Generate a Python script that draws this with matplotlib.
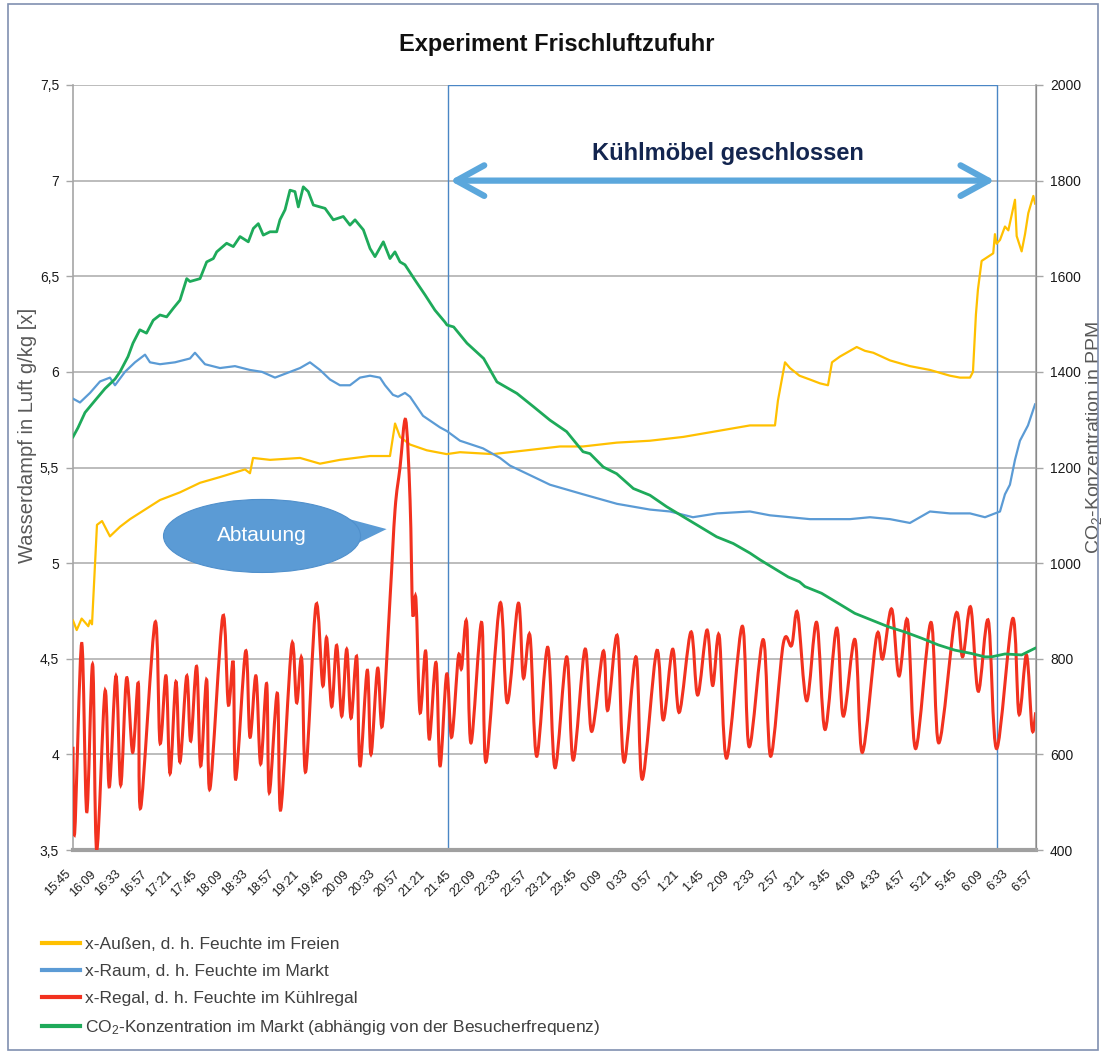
import numpy as np
import matplotlib
matplotlib.use("Agg")
import matplotlib.pyplot as plt
from matplotlib.path import Path
from matplotlib.patches import PathPatch, Ellipse, Polygon, Rectangle
from matplotlib.lines import Line2D
from matplotlib import transforms

plt.rcParams['font.family'] = ['Liberation Sans', 'DejaVu Sans']
plt.rcParams['mathtext.default'] = 'regular'

# time axis: minutes after 15:45, one label every 24 min
time_labels = ['15:45', '16:09', '16:33', '16:57', '17:21', '17:45', '18:09', '18:33',
               '18:57', '19:21', '19:45', '20:09', '20:33', '20:57', '21:21', '21:45',
               '22:09', '22:33', '22:57', '23:21', '23:45', '0:09', '0:33', '0:57',
               '1:21', '1:45', '2:09', '2:33', '2:57', '3:21', '3:45', '4:09', '4:33',
               '4:57', '5:21', '5:45', '6:09', '6:33', '6:57']

# x-Aussen (g/kg)
aussen_t = [0, 3.5, 8.2, 11.4, 14.5, 16.1, 18, 22.7, 27.5, 35, 44.5, 54, 68.2, 82.4,
            101.3, 120.3, 139.2, 162.9, 167.6, 170.5, 186.6, 215, 233.9, 252.8, 267.1,
            281.3, 300.2, 305, 309.7, 319.2, 335, 353.9, 366.5, 397.7, 429.7, 461.2,
            483, 514.9, 546.4, 578, 609.6, 641.1, 664.8, 667.6, 674.3, 679, 688, 697.9,
            707.4, 715, 718.8, 726.3, 742.2, 750, 757.9, 773.7, 792.6, 811.6, 830.5,
            840, 849.5, 852.3, 855.1, 857, 860.5, 871.5, 873.1, 874.7, 877.9, 882.6,
            885.8, 892.1, 893.7, 898.4, 901.6, 904.7, 909.5, 911.1]
aussen_x = [4.70, 4.65, 4.71, 4.69, 4.67, 4.70, 4.68, 5.20, 5.22, 5.14, 5.19, 5.23, 5.28,
            5.33, 5.37, 5.42, 5.45, 5.49, 5.47, 5.55, 5.54, 5.55, 5.52, 5.54, 5.55, 5.56,
            5.56, 5.73, 5.66, 5.62, 5.59, 5.57, 5.58, 5.57, 5.59, 5.61, 5.61, 5.63, 5.64,
            5.66, 5.69, 5.72, 5.72, 5.85, 6.05, 6.02, 5.98, 5.96, 5.94, 5.93, 6.05, 6.08,
            6.13, 6.11, 6.10, 6.06, 6.03, 6.01, 5.98, 5.97, 5.97, 6.00, 6.30, 6.43, 6.58,
            6.62, 6.72, 6.67, 6.69, 6.76, 6.74, 6.90, 6.71, 6.63, 6.72, 6.83, 6.92, 6.88]

# x-Raum (g/kg)
raum_t = [0, 6.6, 16.1, 25.6, 35, 39.8, 49.2, 58.7, 68.2, 72.9, 82.4, 96.6, 110.8, 115.5,
          125, 139.2, 153.4, 167.6, 179, 191.3, 200.8, 215, 224.4, 233.9, 243.4, 252.8,
          262.3, 271.8, 281.3, 290.7, 295.5, 303, 307.8, 314.4, 319.2, 331.5, 347.5,
          354.2, 366.5, 388.3, 404.4, 413.8, 432.8, 451.7, 483, 515.2, 546.4, 565.4,
          587.1, 609.9, 641.1, 660, 679, 697.9, 716.9, 735.8, 754.8, 773.7, 792.6,
          802.1, 811.6, 830.5, 849.5, 863.7, 877.9, 882.6, 887.3, 892.1, 896.8, 904.4,
          911.1]
raum_x = [5.86, 5.84, 5.89, 5.95, 5.97, 5.93, 6.00, 6.05, 6.09, 6.05, 6.04, 6.05, 6.07,
          6.10, 6.04, 6.02, 6.03, 6.01, 6.00, 5.97, 5.99, 6.02, 6.05, 6.01, 5.96, 5.93,
          5.93, 5.97, 5.98, 5.97, 5.93, 5.88, 5.87, 5.89, 5.87, 5.77, 5.71, 5.69, 5.64,
          5.60, 5.55, 5.51, 5.46, 5.41, 5.36, 5.31, 5.28, 5.27, 5.24, 5.26, 5.27, 5.25,
          5.24, 5.23, 5.23, 5.23, 5.24, 5.23, 5.21, 5.24, 5.27, 5.26, 5.26, 5.24, 5.27,
          5.36, 5.41, 5.54, 5.64, 5.72, 5.83]

# x-Regal (g/kg), peaks and troughs
regal_t = [0, 1.6, 8.2, 13, 18.6, 22.4, 30.3, 34.4, 40.7, 45.2, 50.8, 56.5, 61.9, 64.1,
           77.7, 82.4, 88.1, 91.9, 97.5, 101.3, 107.7, 111.5, 117.1, 120.9, 126.6, 129.7,
           141.8, 147.1, 151.8, 154.1, 163.5, 167.6, 173.3, 177.7, 183.4, 185.9, 193.5,
           196.7, 207.1, 211.8, 216.6, 220.4, 230.1, 236.5, 240.2, 245, 249.7, 254.5,
           259.2, 263.3, 268.7, 271.8, 278.7, 282.2, 288.5, 292.9, 300.2, 305, 309.7,
           315, 319.2, 321.7, 324.8, 328.6, 334, 337.4, 343.8, 347.6, 353.9, 358.6,
           364.9, 368, 372.8, 376.9, 387, 391.1, 404.4, 411.3, 421.7, 426.5, 432.8,
           439.1, 449.6, 456.5, 467.5, 473.8, 484.9, 491.2, 502.2, 506.4, 515.5, 521.8,
           533.2, 539.1, 552.7, 559, 567.9, 574.2, 585.2, 591.6, 600.4, 605.8, 612, 619,
           633.8, 640.4, 653.7, 660.7, 672.7, 680.6, 686.2, 694.8, 704.3, 712.2, 723.2,
           729.5, 740.6, 747.5, 761.1, 766.8, 775.3, 782.2, 790.4, 798, 812.5, 820,
           835.9, 842.5, 850.1, 857.3, 866.8, 874.7, 889.9, 895.9, 903, 908.3, 911.7]
regal_x = [4.04, 3.59, 4.58, 3.70, 4.47, 3.50, 4.33, 3.83, 4.41, 3.84, 4.40, 4.01, 4.37,
           3.72, 4.69, 4.06, 4.41, 3.90, 4.38, 3.96, 4.41, 4.07, 4.46, 3.94, 4.39, 3.82,
           4.72, 4.26, 4.48, 3.87, 4.54, 4.09, 4.41, 3.95, 4.37, 3.80, 4.32, 3.71, 4.57,
           4.27, 4.50, 3.91, 4.78, 4.36, 4.61, 4.25, 4.57, 4.20, 4.55, 4.19, 4.51, 3.94,
           4.44, 4.00, 4.45, 4.15, 4.81, 5.28, 5.50, 5.75, 5.33, 4.74, 4.81, 4.22, 4.54,
           4.08, 4.48, 3.94, 4.42, 4.09, 4.51, 4.45, 4.69, 4.06, 4.69, 3.96, 4.79, 4.27,
           4.79, 4.40, 4.62, 3.99, 4.56, 3.93, 4.51, 3.97, 4.55, 4.12, 4.54, 4.23, 4.62,
           3.96, 4.51, 3.87, 4.54, 4.18, 4.55, 4.22, 4.64, 4.31, 4.65, 4.36, 4.62, 3.98,
           4.67, 4.04, 4.60, 3.99, 4.58, 4.57, 4.74, 4.28, 4.69, 4.13, 4.66, 4.20, 4.60,
           4.01, 4.62, 4.50, 4.76, 4.41, 4.70, 4.03, 4.69, 4.06, 4.73, 4.51, 4.77, 4.33,
           4.70, 4.03, 4.71, 4.21, 4.52, 4.13, 4.22]

# CO2 (ppm)
co2_t = [0, 4.7, 11.4, 20.8, 30.3, 39.8, 44.5, 52.1, 56.8, 63.3, 69.6, 76, 82.4, 88.7, 95,
         101.3, 107.7, 110.8, 120.3, 126.6, 132.9, 136.1, 145.5, 151.8, 158.2, 166,
         170.8, 175.5, 180.2, 186.6, 192.9, 196, 200.8, 205.5, 210.2, 213.4, 218.1,
         222.8, 227.6, 233.9, 238.7, 246.5, 256, 262.3, 267.1, 275, 281.3, 286, 293.9,
         300.2, 304.9, 309.7, 314.4, 323.9, 333.4, 342.8, 352.3, 354.2, 360.5, 373.1,
         388.9, 401.5, 420.4, 436.2, 451.7, 467.5, 483, 489.6, 502.2, 514.9, 530.7,
         546.4, 562.2, 578, 593.8, 609.6, 625.3, 641.1, 650.6, 677.4, 688, 693.2, 708.9,
         724.7, 740.4, 756.2, 772, 787.8, 803.6, 819.4, 835.1, 850.9, 863.5, 869.9,
         882.6, 898.4, 904.7, 911.1]
co2_ppm = [1264, 1283, 1315, 1340, 1365, 1385, 1400, 1432, 1460, 1488, 1481, 1508, 1519,
           1515, 1533, 1550, 1595, 1589, 1595, 1630, 1637, 1651, 1669, 1662, 1683, 1672,
           1700, 1710, 1686, 1693, 1693, 1718, 1739, 1780, 1777, 1745, 1787, 1777, 1749,
           1745, 1742, 1718, 1725, 1707, 1718, 1697, 1658, 1641, 1672, 1637, 1651, 1630,
           1624, 1592, 1561, 1529, 1504, 1498, 1494, 1460, 1428, 1379, 1355, 1327, 1299,
           1275, 1233, 1229, 1201, 1187, 1156, 1142, 1118, 1097, 1076, 1055, 1041, 1021,
           1007, 971, 961, 951, 937, 916, 895, 881, 867, 856, 843, 829, 818, 811, 804,
           804, 810, 808, 815, 822]

series_labels = ['x-Außen, d. h. Feuchte im Freien',
                 'x-Raum, d. h. Feuchte im Markt',
                 'x-Regal, d. h. Feuchte im Kühlregal',
                 'CO$_2$-Konzentration im Markt (abhängig von der Besucherfrequenz)']
colors = ['#FFC000', '#5B9BD5', '#F2311F', '#1EAA5A']


def smooth_path(x, y):
    # Excel-like smoothed line (Catmull-Rom as cubic Bezier)
    pts = np.column_stack([x, y]).astype(float)
    n = len(pts)
    verts = [pts[0]]
    codes = [Path.MOVETO]
    for i in range(n - 1):
        p0 = pts[max(i - 1, 0)]
        p1 = pts[i]
        p2 = pts[i + 1]
        p3 = pts[min(i + 2, n - 1)]
        verts += [p1 + (p2 - p0) / 6, p2 - (p3 - p1) / 6, p2]
        codes += [Path.CURVE4] * 3
    return Path(verts, codes)


fig = plt.figure(figsize=(11.05, 10.57), dpi=100)
ax = fig.add_axes([73 / 1105, 1 - 850 / 1057, 963 / 1105, 765 / 1057])
ax2 = ax.twinx()

ax.plot(aussen_t, aussen_x, color=colors[0], lw=1.6, zorder=3)
ax.plot(raum_t, raum_x, color=colors[1], lw=1.6, zorder=3)
ax.add_patch(PathPatch(smooth_path(regal_t, regal_x), fill=False,
                       ec=colors[2], lw=2.2, zorder=4))
ax2.plot(co2_t, co2_ppm, color=colors[3], lw=2.0, zorder=3)

ax.set_xlim(0, 912)
ax.set_ylim(3.5, 7.5)
ax2.set_ylim(400, 2000)

yt = np.arange(3.5, 7.51, 0.5)
ax.set_yticks(yt)
ax.set_yticklabels([('%g' % v).replace('.', ',') for v in yt])
ax2.set_yticks(np.arange(400, 2001, 200))

ax.set_xticks(np.arange(len(time_labels)) * 24)
ax.set_xticklabels(time_labels, rotation=45, ha='right', fontsize=9)
shift = transforms.ScaledTranslation(-5 / 100, 0, fig.dpi_scale_trans)
for lab in ax.get_xticklabels():
    lab.set_transform(lab.get_transform() + shift)

ax.tick_params(axis='x', length=0, pad=13, colors='#1a1a1a')
ax.tick_params(axis='y', length=5, width=1, color='#A6A6A6', labelsize=10,
               labelcolor='#1a1a1a', pad=5)
ax2.tick_params(axis='y', length=5, width=1, color='#A6A6A6', labelsize=10,
                labelcolor='#1a1a1a', pad=5)

ax.yaxis.grid(True, color='#B0B0B0', lw=1.2)
ax.set_axisbelow(True)
ax.spines['top'].set_visible(False)
ax.spines['bottom'].set_color('#A0A0A0')
ax.spines['bottom'].set_linewidth(3)
ax.spines['left'].set_color('#A6A6A6')
ax.spines['left'].set_linewidth(1.2)
for s in ['top', 'left', 'bottom']:
    ax2.spines[s].set_visible(False)
ax2.spines['right'].set_color('#A6A6A6')
ax2.spines['right'].set_linewidth(1.2)

ax.set_ylabel('Wasserdampf in Luft g/kg [x]', fontsize=14.5, color='#595959')
ax.yaxis.set_label_coords((37 - 73) / 963, (850 - 435) / 765)
ax2.set_ylabel('CO$_2$-Konzentration in PPM', fontsize=14, color='#595959')
ax2.yaxis.set_label_coords((1084 - 73) / 963, (850 - 438) / 765)

# closed cabinets period
ax.add_patch(Rectangle((355, 3.5), 520, 4.0, fill=False, ec='#4A86C5', lw=1, zorder=2))
ax.annotate('', xy=(873, 7.0), xytext=(357, 7.0),
            arrowprops=dict(arrowstyle='<->,head_length=1.0,head_width=0.55',
                            color='#5BA7DC', lw=4.5, mutation_scale=20,
                            shrinkA=0, shrinkB=0), zorder=6)
ax.text(620, 7.144, 'Kühlmöbel geschlossen', ha='center', va='center',
        fontsize=17, fontweight='bold', color='#13254F', zorder=6)

# defrost callout
ax.add_patch(Polygon([(255, 5.24), (297, 5.178), (257, 5.07)], closed=True,
                     fc='#5B9BD5', ec='none', zorder=7))
ax.add_patch(Ellipse((179, 5.142), 186.6, 0.382, fc='#5B9BD5', ec='#5090CC',
                     lw=0.8, zorder=7))
ax.text(179, 5.142, 'Abtauung', ha='center', va='center', fontsize=15,
        color='white', zorder=8)

fig.text(556.5 / 1105, 1 - 45 / 1057, 'Experiment Frischluftzufuhr', ha='center',
         va='center', fontsize=17, fontweight='bold', color='#111111')

handles = [Line2D([], [], color=c, lw=3) for c in colors]
fig.legend(handles, series_labels, loc='upper left',
           bbox_to_anchor=(42 / 1105, 1 - 937 / 1057), frameon=False,
           fontsize=12.5, handlelength=2.2, handletextpad=0.3, labelspacing=0.68,
           borderpad=0, borderaxespad=0, labelcolor='#404040')

# outer frame
fig.patches.append(Rectangle((8 / 1105, 7 / 1057), 1090 / 1105, 1046 / 1057,
                             transform=fig.transFigure, fill=False,
                             ec='#8090B0', lw=1.2))

fig.savefig('out.png', dpi=100)
